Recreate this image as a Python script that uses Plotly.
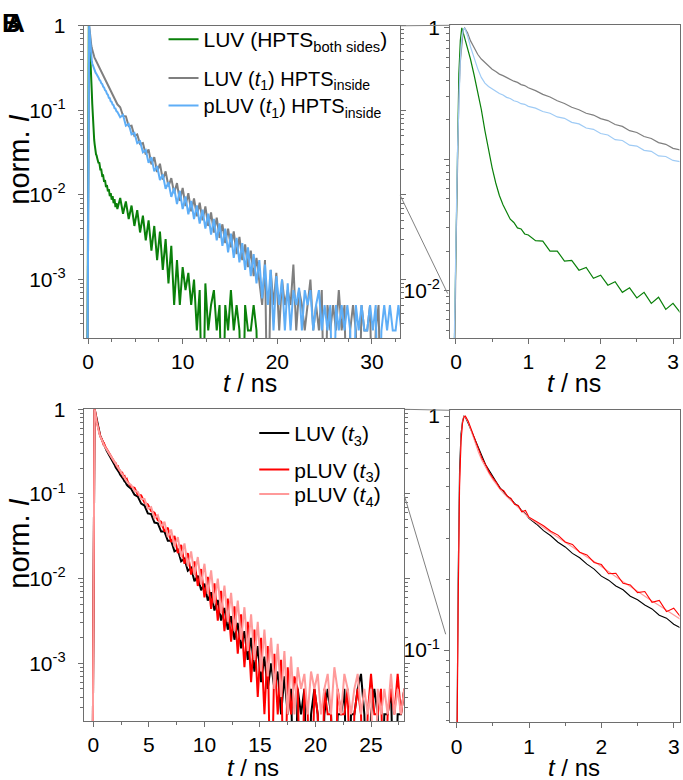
import plotly.graph_objects as go

# ---------------- data ----------------
T_EARLY = [-0.1, -0.02, 0.0, 0.02, 0.04, 0.06, 0.08, 0.10, 0.12, 0.16,
           0.20, 0.25, 0.30, 0.35, 0.40, 0.45, 0.50, 0.55, 0.60, 0.65,
           0.70, 0.75, 0.80, 0.85, 0.90, 0.95, 1.00, 1.1, 1.2, 1.3,
           1.4, 1.5, 1.6, 1.7, 1.8, 1.9, 2.0, 2.1, 2.2, 2.3,
           2.4, 2.5, 2.6, 2.7, 2.8, 2.9, 3.0, 3.1]
T_TAIL = [3.4, 3.7, 4.0, 4.3, 4.6, 4.9, 5.2, 5.5, 5.8, 6.1,
          6.4, 6.7, 7.0, 7.3, 7.6, 7.9, 8.2, 8.5, 8.8, 9.1,
          9.4, 9.7, 10.0, 10.3, 10.6, 10.9, 11.2, 11.5, 11.8, 12.1,
          12.4, 12.7, 13.0, 13.3, 13.6, 13.9, 14.2, 14.5, 14.8, 15.1,
          15.4, 15.7, 16.0, 16.3, 16.6, 16.9, 17.2, 17.5, 17.8, 18.1,
          18.4, 18.7, 19.0, 19.3, 19.6, 19.9, 20.2, 20.5, 20.8, 21.1,
          21.4, 21.7, 22.0, 22.3, 22.6, 22.9, 23.2, 23.5, 23.8, 24.1,
          24.4, 24.7, 25.0, 25.3, 25.6, 25.9, 26.2, 26.5, 26.8, 27.1,
          27.4, 27.7, 28.0, 28.3, 28.6, 28.9, 29.2, 29.5, 29.8, 30.1,
          30.4, 30.7, 31.0, 31.3, 31.6, 31.9, 32.2, 32.5, 32.8, 33.1]

# Panel A
GREEN_EARLY = [1e-5, 0.004, 0.035, 0.17, 0.45, 0.80, 1.0, 0.92, 0.84, 0.70,
               0.58, 0.44, 0.33, 0.24, 0.165, 0.118, 0.086, 0.066, 0.053, 0.045,
               0.040, 0.035, 0.033, 0.030, 0.0295, 0.027, 0.0265, 0.0240, 0.0238, 0.0200,
               0.0200, 0.0168, 0.0170, 0.0143, 0.0150, 0.0124, 0.0131, 0.0110, 0.0117, 0.0097,
               0.0105, 0.0088, 0.0097, 0.0080, 0.0089, 0.0072, 0.0080, 0.0068]
GREEN_TAIL = [0.0092, 0.0060, 0.0084, 0.0052, 0.0075, 0.0043, 0.0066, 0.0036, 0.0057, 0.0029,
              0.0050, 0.0022, 0.0043, 0.0017, 0.0037, 0.0013, 0.0030, 0.0009, 0.0025, 0.0005,
              0.0017, 0.0005, 0.0014, 0.00075, 0.0012, 0.0005, 0.0010, 0.00025, 0.00075, 0.00001,
              0.0009, 0.00025, 0.0005, 0.00075, 0.00025, 0.0005, 0.00001, 0.0005, 0.00025, 0.00075,
              0.00025, 0.0005, 0.00025, 0.00001, 0.0005, 0.00025, 0.00025, 0.0005, 0.00025, 0.00001]

GRAY_EARLY = [1e-5, 0.002, 0.02, 0.10, 0.30, 0.55, 0.80, 0.96, 1.0, 0.92,
              0.80, 0.70, 0.63, 0.58, 0.545, 0.51, 0.485, 0.465, 0.445, 0.433,
              0.418, 0.407, 0.393, 0.385, 0.370, 0.364, 0.350, 0.333, 0.312, 0.298,
              0.279, 0.266, 0.249, 0.238, 0.224, 0.217, 0.204, 0.197, 0.184, 0.178,
              0.165, 0.160, 0.149, 0.144, 0.134, 0.130, 0.121, 0.118]
GRAY_TAIL = [0.109, 0.086, 0.085, 0.065, 0.066, 0.050, 0.052, 0.040, 0.041, 0.030,
             0.0345, 0.023, 0.028, 0.0187, 0.0234, 0.0152, 0.019, 0.0126, 0.0158, 0.0105,
             0.0138, 0.0085, 0.0121, 0.0074, 0.0105, 0.0064, 0.0091, 0.0056, 0.0081, 0.0050,
             0.0073, 0.0043, 0.0062, 0.0036, 0.0054, 0.0031, 0.0045, 0.0027, 0.0040, 0.0024,
             0.0037, 0.0020, 0.0032, 0.0017, 0.0026, 0.0014, 0.0022, 0.0011, 0.0018, 0.0010,
             0.0005, 0.0017, 0.00001, 0.0013, 0.0005, 0.0012, 0.00025, 0.0010, 0.0005, 0.00075,
             0.0005, 0.0015, 0.00025, 0.00075, 0.0005, 0.00025, 0.0005, 0.001, 0.00025, 0.0005,
             0.00025, 0.00075, 0.00001, 0.0005, 0.00025, 0.0005, 0.00025, 0.00075, 0.00025, 0.0005,
             0.00001, 0.00025, 0.0005, 0.00025, 0.00001, 0.0005, 0.00025, 0.00025, 0.0005, 0.00001,
             0.00025, 0.0005, 0.00001]

BLUE_EARLY = [1e-5, 0.003, 0.025, 0.11, 0.32, 0.58, 0.82, 0.97, 1.0, 0.87,
              0.72, 0.59, 0.49, 0.42, 0.38, 0.358, 0.342, 0.331, 0.317, 0.309,
              0.296, 0.290, 0.279, 0.274, 0.265, 0.262, 0.253, 0.245, 0.231, 0.224,
              0.210, 0.205, 0.191, 0.186, 0.173, 0.169, 0.157, 0.153, 0.141, 0.139,
              0.128, 0.126, 0.117, 0.115, 0.106, 0.105, 0.098, 0.096]
BLUE_TAIL = [0.083, 0.088, 0.066, 0.069, 0.052, 0.054, 0.041, 0.043, 0.032, 0.034,
             0.024, 0.028, 0.019, 0.022, 0.0150, 0.0175, 0.0118, 0.0142, 0.0095, 0.0121,
             0.0078, 0.0112, 0.0068, 0.0096, 0.0059, 0.0085, 0.0052, 0.0075, 0.0046, 0.0067,
             0.0040, 0.0060, 0.0034, 0.0052, 0.0029, 0.0046, 0.0025, 0.0040, 0.0021, 0.0035,
             0.0018, 0.0031, 0.0016, 0.0027, 0.0013, 0.0024, 0.0011, 0.0020, 0.0009, 0.0017,
             0.0006, 0.0015, 0.0005, 0.0013, 0.00025, 0.0011, 0.0005, 0.0010, 0.00025, 0.0009,
             0.00025, 0.00075, 0.0005, 0.0008, 0.00025, 0.00075, 0.0005, 0.00075, 0.00025, 0.0005,
             0.00075, 0.00025, 0.0005, 0.00025, 0.0005, 0.00001, 0.0005, 0.00025, 0.0005, 0.00025,
             0.0005, 0.00025, 0.00001, 0.0005, 0.00025, 0.0005, 0.00025, 0.00025, 0.0005, 0.00025,
             0.0005, 0.00001, 0.00025, 0.0005, 0.00025, 0.0005, 0.00025, 0.00025, 0.0005, 0.00025]

# Panel B
BLACK_EARLY = [1e-5, 0.004, 0.03, 0.20, 0.60, 0.84, 0.95, 1.0, 0.99, 0.93,
               0.87, 0.80, 0.73, 0.675, 0.62, 0.585, 0.55, 0.522, 0.494, 0.474,
               0.455, 0.442, 0.424, 0.412, 0.394, 0.383, 0.366, 0.346, 0.324, 0.308,
               0.289, 0.276, 0.259, 0.248, 0.233, 0.222, 0.207, 0.199, 0.188, 0.181,
               0.170, 0.164, 0.156, 0.150, 0.141, 0.137, 0.129, 0.124]
BLACK_TAIL = [0.115, 0.098, 0.093, 0.077, 0.073, 0.059, 0.058, 0.046, 0.045, 0.036,
              0.036, 0.028, 0.028, 0.021, 0.022, 0.016, 0.0172, 0.0124, 0.0134, 0.0093,
              0.0108, 0.0073, 0.0087, 0.0055, 0.0069, 0.0042, 0.0056, 0.0032, 0.0045, 0.0025,
              0.0036, 0.0019, 0.0030, 0.0015, 0.0024, 0.0011, 0.0020, 0.0008, 0.0016, 0.0006,
              0.0012, 0.0005, 0.0010, 0.0005, 0.0008, 0.00025, 0.0007, 0.00025, 0.0005, 0.00001,
              0.0005, 0.00025, 0.0005, 0.00001, 0.00025, 0.0005, 0.00025, 0.00001, 0.00025, 0.0005,
              0.00025, 0.00001, 0.00025, 0.00025, 0.0005, 0.00001, 0.00025, 0.00025, 0.0005, 0.00075,
              0.00025, 0.00001, 0.00025, 0.0005, 0.00025, 0.00001, 0.00025, 0.00025, 0.0005, 0.00001,
              0.00025, 0.00025, 0.0005]

RED_EARLY = [1e-5, 0.003, 0.025, 0.15, 0.50, 0.78, 0.93, 0.99, 1.0, 0.95,
             0.88, 0.79, 0.72, 0.66, 0.62, 0.575, 0.545, 0.52, 0.49, 0.48,
             0.455, 0.445, 0.42, 0.415, 0.39, 0.395, 0.37, 0.355, 0.34, 0.322,
             0.31, 0.29, 0.283, 0.262, 0.255, 0.237, 0.232, 0.212, 0.213, 0.193,
             0.19, 0.176, 0.178, 0.16, 0.163, 0.146, 0.151, 0.138]
RED_TAIL = [0.121, 0.118, 0.098, 0.096, 0.079, 0.075, 0.063, 0.060, 0.049, 0.047,
            0.036, 0.040, 0.027, 0.032, 0.020, 0.025, 0.0150, 0.020, 0.0112, 0.016,
            0.0082, 0.013, 0.0060, 0.0105, 0.0044, 0.0088, 0.0032, 0.0072, 0.0024, 0.0058,
            0.0018, 0.0047, 0.0013, 0.0038, 0.0009, 0.0031, 0.0006, 0.0025, 0.0004, 0.0020,
            0.00025, 0.0016, 0.00001, 0.0013, 0.00025, 0.0011, 0.00001, 0.0009, 0.00025, 0.0007,
            0.0005, 0.00001, 0.0005, 0.00025, 0.00001, 0.0005, 0.00025, 0.00001, 0.0005, 0.00025,
            0.00025, 0.00001, 0.0005, 0.00025, 0.00025, 0.0005, 0.00001, 0.00025, 0.0005, 0.00025,
            0.00001, 0.00025, 0.00075, 0.00025, 0.00025, 0.0005, 0.00001, 0.00025, 0.0005, 0.00025,
            0.00075, 0.00025, 0.0005]

PINK_EARLY = [1e-5, 0.003, 0.028, 0.17, 0.52, 0.80, 0.94, 1.0, 0.995, 0.94,
              0.86, 0.77, 0.70, 0.645, 0.60, 0.566, 0.535, 0.508, 0.486, 0.466,
              0.45, 0.435, 0.42, 0.405, 0.392, 0.38, 0.368, 0.35, 0.333, 0.318,
              0.302, 0.289, 0.276, 0.262, 0.25, 0.239, 0.227, 0.216, 0.206, 0.196,
              0.187, 0.178, 0.17, 0.162, 0.155, 0.148, 0.141, 0.135]
PINK_TAIL = [0.128, 0.109, 0.106, 0.087, 0.087, 0.067, 0.070, 0.052, 0.056, 0.041,
             0.047, 0.031, 0.038, 0.024, 0.031, 0.018, 0.026, 0.014, 0.021, 0.011,
             0.018, 0.0085, 0.015, 0.0066, 0.0125, 0.0051, 0.010, 0.0039, 0.0083, 0.0031,
             0.0068, 0.0024, 0.0055, 0.0019, 0.0046, 0.0014, 0.0038, 0.0011, 0.0031, 0.0008,
             0.0025, 0.0007, 0.0020, 0.0005, 0.0017, 0.0004, 0.0014, 0.00025, 0.0012, 0.00025,
             0.0009, 0.0005, 0.00075, 0.00025, 0.0008, 0.0005, 0.00075, 0.00025, 0.0005, 0.00075,
             0.00025, 0.0009, 0.0005, 0.00025, 0.00075, 0.0005, 0.00025, 0.0005, 0.00075, 0.00025,
             0.0005, 0.00025, 0.0005, 0.00001, 0.0005, 0.00025, 0.0005, 0.00025, 0.00075, 0.00025,
             0.0005, 0.00025, 0.0005]

NAMES_A = ["LUV (HPTS<sub>both sides</sub>)",
           "LUV (<i>t</i><sub>1</sub>) HPTS<sub>inside</sub>",
           "pLUV (<i>t</i><sub>1</sub>) HPTS<sub>inside</sub>"]
NAMES_B = ["LUV (<i>t</i><sub>3</sub>)",
           "pLUV (<i>t</i><sub>3</sub>)",
           "pLUV (<i>t</i><sub>4</sub>)"]

MAIN_Y_TICKS = [1e-3, 1e-2, 1e-1, 1]
MAIN_Y_TEXT = ["10<sup>-3</sup>", "10<sup>-2</sup>", "10<sup>-1</sup>", "1"]

# ---------------- layout helpers ----------------
W, H = 683, 780
FONT = "Liberation Sans, Arial, Helvetica, sans-serif"
AX = "#6e6e6e"


def fx(p):
    return p / W


def fy(p):
    return 1 - p / H


def minor_log(lo_exp, hi_exp):
    vals = []
    for e in range(lo_exp, hi_exp):
        for m in range(2, 10):
            vals.append(m * 10 ** e)
    return vals


T_A = T_EARLY + T_TAIL
T_B = T_EARLY + T_TAIL
N_INSET = len(T_EARLY) + 1

fig = go.Figure()

series_a = [
    (NAMES_A[0], GREEN_EARLY + GREEN_TAIL, "#0a800a", "#0a800a", "legend"),
    (NAMES_A[1], GRAY_EARLY + GRAY_TAIL, "#7f7f7f", "#7f7f7f", "legend2"),
    (NAMES_A[2], BLUE_EARLY + BLUE_TAIL, "#5eaef7", "#9fcbf5", "legend3"),
]
for name, y, col, col_in, lg in series_a:
    fig.add_trace(go.Scatter(x=T_A[:len(y)], y=y, mode="lines", name=name,
                             line=dict(color=col, width=2.0), legend=lg,
                             xaxis="x", yaxis="y"))
for name, y, col, col_in, lg in series_a:
    fig.add_trace(go.Scatter(x=T_A[:N_INSET], y=y[:N_INSET], mode="lines", name=name,
                             line=dict(color=col_in, width=1.2), showlegend=False,
                             xaxis="x2", yaxis="y2"))

series_b = [
    (NAMES_B[0], BLACK_EARLY + BLACK_TAIL, "#000000", "legend4"),
    (NAMES_B[1], RED_EARLY + RED_TAIL, "#ff0000", "legend5"),
    (NAMES_B[2], PINK_EARLY + PINK_TAIL, "#ff9a9a", "legend6"),
]
for name, y, col, lg in series_b:
    fig.add_trace(go.Scatter(x=T_B[:len(y)], y=y, mode="lines", name=name,
                             line=dict(color=col, width=2.0), legend=lg,
                             xaxis="x3", yaxis="y3"))
for idx in (0, 2, 1):
    name, y, col, lg = series_b[idx]
    fig.add_trace(go.Scatter(x=T_B[:N_INSET], y=y[:N_INSET], mode="lines", name=name,
                             line=dict(color=col, width=1.1), showlegend=False,
                             xaxis="x4", yaxis="y4"))


def xaxis(dom, anchor, rng, dtick, mdtick):
    return dict(domain=dom, anchor=anchor, range=rng, tickmode="linear", tick0=0,
                dtick=dtick, ticks="outside", ticklen=5, tickwidth=1, tickcolor=AX,
                showline=True, linecolor=AX, linewidth=1, mirror=True,
                showgrid=False, zeroline=False, ticklabelstandoff=0,
                tickfont=dict(size=21, family=FONT, color="black"),
                minor=dict(tickmode="linear", tick0=0, dtick=mdtick, ticks="outside",
                           ticklen=3, tickwidth=1, tickcolor=AX, showgrid=False))


def yaxis(dom, anchor, rng, tv, tt, mv, mirror, standoff):
    return dict(type="log", domain=dom, anchor=anchor, range=rng, tickmode="array",
                tickvals=tv, ticktext=tt, ticks="outside", ticklen=5, tickwidth=1,
                tickcolor=AX, showline=True, linecolor=AX, linewidth=1, mirror=mirror,
                showgrid=False, zeroline=False, ticklabelstandoff=standoff,
                tickfont=dict(size=21, family=FONT, color="black"),
                minor=dict(tickmode="array", tickvals=mv, ticks="outside", ticklen=3,
                           tickwidth=1, tickcolor=AX, showgrid=False))


top_main_x = [fx(82), fx(399.5)]
top_main_y = [fy(331), fy(14)]
top_in_x = [fx(449.5), fx(679.5)]
top_in_y = [fy(331), fy(13.5)]
bot_main_x = [fx(82), fx(403.5)]
bot_main_y = [fy(720), fy(403.5)]
bot_in_x = [fx(449.5), fx(679.5)]
bot_in_y = [fy(721.5), fy(404.5)]


def legend_at(xp, yp, size=21):
    return dict(x=fx(xp), y=fy(yp), xanchor="left", yanchor="middle",
                bgcolor="rgba(0,0,0,0)", borderwidth=0, itemwidth=30,
                font=dict(size=size, family=FONT, color="black"))


annotations = []
for txt, xp, yp, ang, size in [
    ("norm. <i>I</i>", 17, 150, -90, 29),
    ("norm. <i>I</i>", 17, 540, -90, 29),
    ("<i>t</i> / ns", 249, 377, 0, 25),
    ("<i>t</i> / ns", 574, 377, 0, 25),
    ("<i>t</i> / ns", 252, 767, 0, 24),
    ("<i>t</i> / ns", 574, 767, 0, 24),
]:
    annotations.append(dict(text=txt, x=fx(xp), y=fy(yp), xref="paper", yref="paper",
                            xanchor="center", yanchor="middle", textangle=ang,
                            showarrow=False, borderpad=0,
                            font=dict(size=size, family=FONT, color="black")))
for txt, xp in [("A", 2), ("B", -2)]:
    annotations.append(dict(text="<b>%s</b>" % txt, x=fx(xp), y=fy(28), xref="paper",
                            yref="paper", xanchor="left", yanchor="bottom", showarrow=False,
                            font=dict(size=26, family=FONT, color="black")))

shapes = []
for x0, y0, x1, y1 in [(399.5, 14, 449.5, 13.5), (399.5, 186.5, 447, 286),
                       (403.5, 403.5, 449.5, 404.5), (403.5, 491, 445, 632)]:
    shapes.append(dict(type="line", xref="paper", yref="paper", x0=fx(x0), y0=fy(y0),
                       x1=fx(x1), y1=fy(y1), line=dict(color="#808080", width=1)))

fig.update_layout(
    width=W, height=H, margin=dict(l=0, r=0, t=0, b=0),
    paper_bgcolor="white", plot_bgcolor="white",
    font=dict(family=FONT, color="black"),
    showlegend=True,
    xaxis=xaxis(top_main_x, "y", [-0.45, 33.0], 10, 2.5),
    yaxis=yaxis(top_main_y, "x", [-3.69, 0], MAIN_Y_TICKS, MAIN_Y_TEXT,
                minor_log(-4, 0), "allticks", 8),
    xaxis2=xaxis(top_in_x, "y2", [-0.08, 3.09], 1, 0.5),
    yaxis2=yaxis(top_in_y, "x2", [-2.36, 0.02], [0.01, 0.1, 1],
                 ["10<sup>-2</sup>", "", "1"], minor_log(-3, 0), True, 0),
    xaxis3=xaxis(bot_main_x, "y3", [-0.87, 28.0], 5, 2.5),
    yaxis3=yaxis(bot_main_y, "x3", [-3.68, 0], MAIN_Y_TICKS, MAIN_Y_TEXT,
                 minor_log(-4, 0), "allticks", 8),
    xaxis4=xaxis(bot_in_x, "y4", [-0.09, 3.08], 1, 0.5),
    yaxis4=yaxis(bot_in_y, "x4", [-1.309, 0.025], [0.1, 1],
                 ["10<sup>-1</sup>", "1"], minor_log(-2, 0), True, 0),
    legend=legend_at(162, 28),
    legend2=legend_at(162, 67, 20),
    legend3=legend_at(162, 95, 20),
    legend4=legend_at(253, 428),
    legend5=legend_at(253, 465),
    legend6=legend_at(253, 490),
    annotations=annotations,
    shapes=shapes,
)

fig.write_html("out.html")
